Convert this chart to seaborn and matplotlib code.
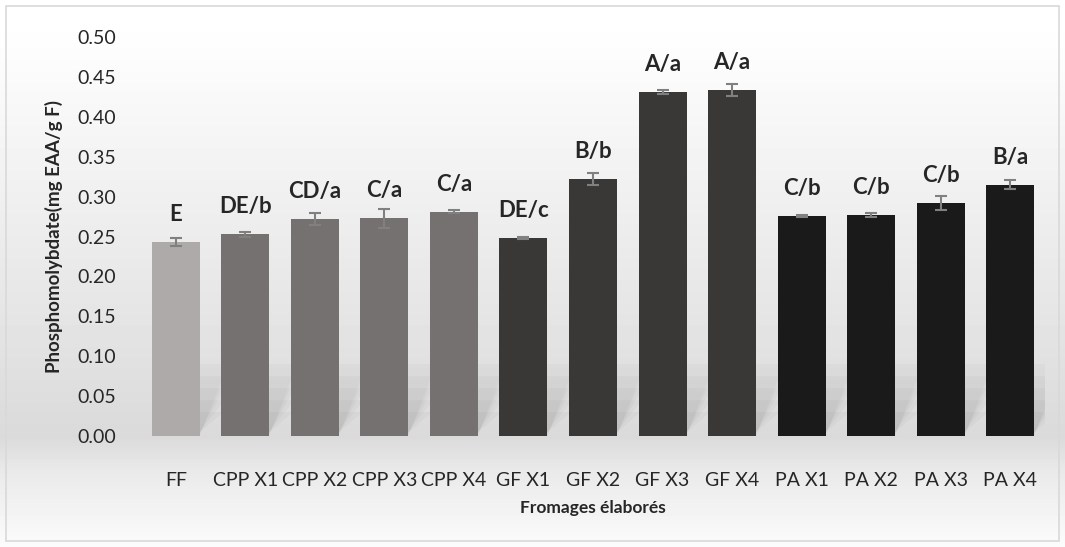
"""
Phosphomolybdate activity of the elaborated cheeses, bar chart with error bars and letters.
"""
import matplotlib
matplotlib.use("Agg")
import matplotlib.pyplot as plt
import matplotlib.patches as mpatches
import seaborn as sns
import numpy as np
import pandas as pd

categories = ["FF", "CPP X1", "CPP X2", "CPP X3", "CPP X4", "GF X1", "GF X2",
              "GF X3", "GF X4", "PA X1", "PA X2", "PA X3", "PA X4"]
values = [0.243, 0.253, 0.272, 0.273, 0.281, 0.248, 0.322,
          0.431, 0.434, 0.276, 0.277, 0.292, 0.315]
errors = [0.005, 0.003, 0.007, 0.012, 0.002, 0.001, 0.0075,
          0.0025, 0.0075, 0.001, 0.0025, 0.009, 0.006]
letters = ["E", "DE/b", "CD/a", "C/a", "C/a", "DE/c", "B/b",
           "A/a", "A/a", "C/b", "C/b", "C/b", "B/a"]
groups = ["FF", "CPP", "CPP", "CPP", "CPP", "GF", "GF",
          "GF", "GF", "PA", "PA", "PA", "PA"]
group_colors = {"FF": "#aeaaa9", "CPP": "#757170", "GF": "#3a3837", "PA": "#1a1a1a"}

df = pd.DataFrame({"cat": categories, "val": values, "err": errors,
                   "grp": groups, "lab": letters})

sns.set_style("white")
plt.rcParams['font.family'] = ['Lato', 'DejaVu Sans']

W, H = 1065, 547
fig = plt.figure(figsize=(W / 100, H / 100), dpi=100)

# vertical background gradient (white at top, grey at the floor, fading again below)
bg = fig.add_axes([0, 0, 1, 1], zorder=-5)
rows = np.arange(H)
shade = np.interp(rows, [0, 40, 436, 470, 545], [1.0, 0.995, 0.855, 0.915, 0.985])
bg.imshow(shade[:, None], aspect="auto", cmap="gray", vmin=0, vmax=1,
          extent=[0, 1, 0, 1], origin="upper")
bg.set_axis_off()
fig.patches.append(mpatches.Rectangle((6 / W, 6 / H), 1 - 12 / W, 1 - 12 / H,
                                      transform=fig.transFigure, fill=False,
                                      edgecolor="#d9d9d9", linewidth=1.2))

ax = fig.add_axes([141 / W, 1 - 436 / H, 904 / W, 399 / H])
ax.patch.set_alpha(0)
sns.barplot(data=df, x="cat", y="val", hue="grp", palette=group_colors,
            dodge=False, width=0.69, legend=False, ax=ax, errorbar=None,
            saturation=1, linewidth=0, zorder=3)

# soft perspective shadows behind the bars
for p in list(ax.patches):
    x0, w = p.get_x(), p.get_width()
    for k in range(5):
        grow = 0.015 * k
        poly = mpatches.Polygon([(x0 + grow, 0), (x0 + w - grow, 0),
                                 (x0 + w + 0.4 - grow, 0.09 - grow),
                                 (x0 + 0.4 + grow, 0.09 - grow)],
                                closed=True, facecolor="black", alpha=0.025,
                                linewidth=0, zorder=1)
        ax.add_patch(poly)

ax.errorbar(np.arange(len(categories)), values, yerr=errors, fmt="none",
            ecolor="#808080", elinewidth=1.5, capsize=4, capthick=1.5, zorder=4)

for i, (v, t) in enumerate(zip(values, letters)):
    ax.text(i, v + 0.021, t, ha="center", va="bottom",
            fontsize=16, fontweight="bold")

ticks = np.arange(0, 0.501, 0.05)
ax.set_ylim(0, 0.5)
ax.set_yticks(ticks)
ax.set_yticklabels([f"{t:.2f}" for t in ticks], fontsize=14)
ax.tick_params(axis="x", labelsize=14, pad=26, length=0)
ax.tick_params(axis="y", length=0, pad=18)
ax.set_xlim(-0.5, len(categories) - 0.5)
for s in ax.spines.values():
    s.set_visible(False)
ax.set_xlabel("Fromages élaborés", fontsize=12.5, fontweight="bold", labelpad=8)
ax.set_ylabel("Phosphomolybdate(mg EAA/g F)", fontsize=13.5, fontweight="bold",
              labelpad=10)

plt.savefig("out.png", dpi=100)
